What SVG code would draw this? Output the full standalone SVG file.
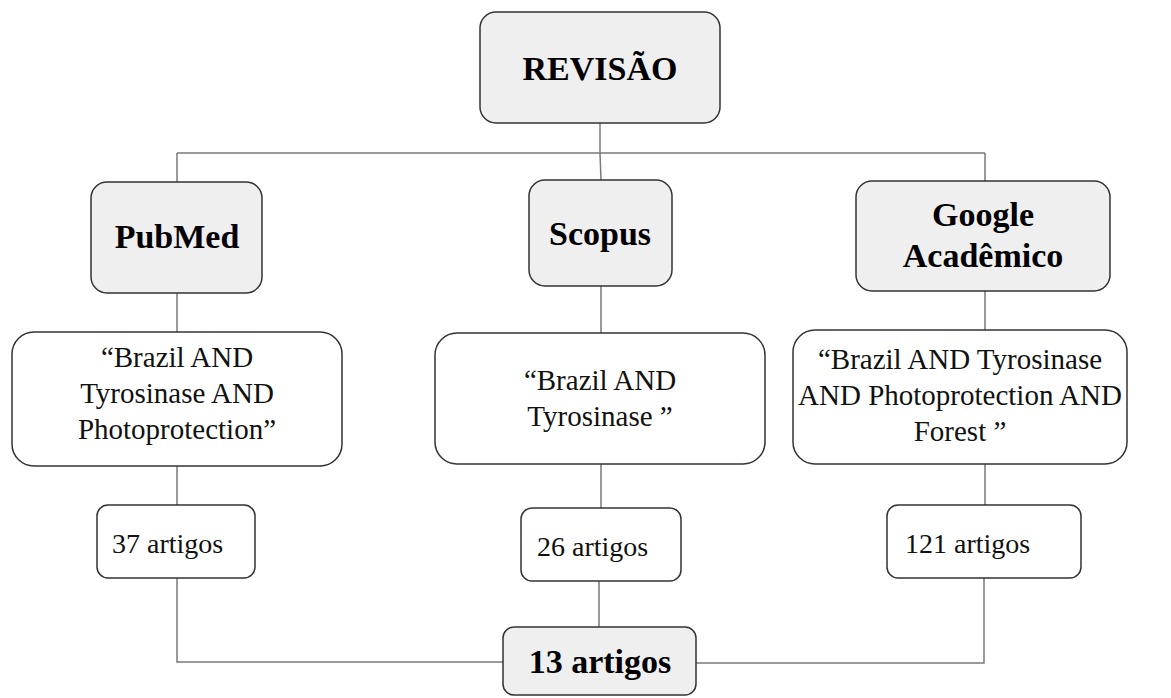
<svg xmlns="http://www.w3.org/2000/svg" width="1171" height="698" viewBox="0 0 1171 698">
<style>
.c{fill:none;stroke:#7a7a7a;stroke-width:1.5}
.h{fill:#efefef;stroke:#333;stroke-width:1.5}
.q{fill:#fff;stroke:#333;stroke-width:1.5}
.b{font-family:"Liberation Serif","Times New Roman",serif;font-weight:bold;font-size:34px;fill:#000;text-anchor:middle}
.r{font-family:"Liberation Serif","Times New Roman",serif;font-size:29px;fill:#111;text-anchor:middle}
.a{font-family:"Liberation Serif","Times New Roman",serif;font-size:28px;fill:#111}
</style>
<rect width="1171" height="698" fill="#fff"/>
<g id="connectors">
<path class="c" d="M600 123V153M177 153H985M177 153V182M600 153L601 180M985 153V181"/>
<path class="c" d="M177 293V332M601 286V333M985 291V330"/>
<path class="c" d="M177 466V505M601 464V508M985 464V505"/>
<path class="c" d="M177 578V662H503M599 581V627M984 578V663H696"/>
</g>
<g id="revisao"><rect class="h" x="480" y="12" width="240" height="111" rx="16"/><text class="b" x="600" y="80" font-size="35">REVISÃO</text></g>
<g id="pubmed"><rect class="h" x="91" y="182" width="171" height="111" rx="16" fill="#f2f2f2"/><text class="b" x="177" y="248">PubMed</text></g>
<g id="scopus"><rect class="h" x="529" y="180" width="143" height="106" rx="16"/><text class="b" x="600" y="245">Scopus</text></g>
<g id="google"><rect class="h" x="856" y="181" width="254" height="110" rx="16"/><text class="b" x="983" y="226">Google</text><text class="b" x="983" y="267">Acadêmico</text></g>
<g id="q-pubmed"><rect class="q" x="12" y="332" width="330" height="134" rx="22"/><text class="r" x="177" y="367">“Brazil AND</text><text class="r" x="177" y="403">Tyrosinase AND</text><text class="r" x="177" y="439">Photoprotection”</text></g>
<g id="q-scopus"><rect class="q" x="435" y="333" width="330" height="131" rx="22"/><text class="r" x="600" y="390">“Brazil AND</text><text class="r" x="600" y="426">Tyrosinase ”</text></g>
<g id="q-google"><rect class="q" x="793" y="330" width="334" height="134" rx="22"/><text class="r" x="960" y="369">“Brazil AND Tyrosinase</text><text class="r" x="960" y="405">AND Photoprotection AND</text><text class="r" x="960" y="441">Forest ”</text></g>
<g id="n37"><rect class="q" x="97" y="505" width="158" height="73" rx="11"/><text class="a" x="112" y="553">37 artigos</text></g>
<g id="n26"><rect class="q" x="521" y="508" width="160" height="73" rx="11"/><text class="a" x="537" y="556">26 artigos</text></g>
<g id="n121"><rect class="q" x="887" y="505" width="194" height="73" rx="11"/><text class="a" x="905" y="553">121 artigos</text></g>
<g id="n13"><rect class="h" x="503" y="627" width="193" height="68" rx="11"/><text class="b" x="600" y="673" font-size="30">13 artigos</text></g>
</svg>
